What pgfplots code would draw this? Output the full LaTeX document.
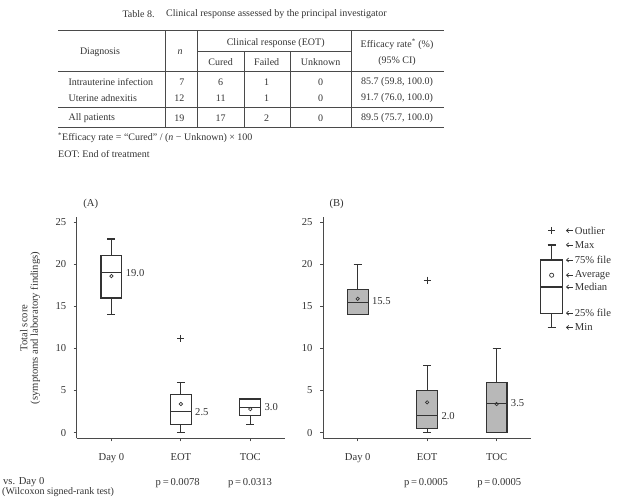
\documentclass[border=0pt]{standalone}
\usepackage{fontspec}
\setmainfont{Liberation Serif}
\usepackage{pgfplots}
\pgfplotsset{compat=1.18}
\usepgfplotslibrary{statistics}
\usetikzlibrary{arrows.meta}

\definecolor{ink}{HTML}{333333}
\definecolor{rule}{HTML}{4A4A4A}
\definecolor{boxfill}{HTML}{B8B8B8}

\newcommand{\plotfont}{\fontsize{10.6}{12.5}\selectfont}

\pgfplotsset{
  scorebox/.style={
    scale only axis, width=208.3pt, height=221.6pt,
    anchor=south west,
    xmin=0.5, xmax=3.5, ymin=-0.67, ymax=25.65,
    axis x line*=bottom, axis y line*=left,
    axis line style={draw=rule, line width=1pt},
    every tick/.style={draw=rule, line width=1pt},
    tick align=outside, major tick length=3pt,
    xtick={1,2,3}, xticklabels={Day 0, EOT, TOC},
    ytick={0,5,10,15,20,25},
    /pgf/number format/assume math mode=true,
    tick label style={font=\plotfont, text=ink},
    x tick label style={yshift=-9pt},
    y tick label style={xshift=-4pt},
    clip=false,
    boxplot/draw direction=y,
  },
  bx/.style={draw=ink, line width=1.2pt, solid, mark=none},
  meanmark/.style={only marks, mark=o, mark size=1.7pt, draw=ink, line width=0.7pt},
  outlier/.style={only marks, mark=+, mark size=3.6pt, draw=ink, line width=0.9pt},
}

% one arrow-and-word entry of the box key
\newcommand{\keyitem}[2]{%
  \draw[ink, line width=0.7pt, {Straight Barb[length=2.2pt,width=4pt]}-]
    (axis cs:0.395,#1) -- (axis cs:0.47,#1);
  \node[anchor=west, inner sep=1pt, font=\plotfont] at (axis cs:0.48,#1) {#2};
}

\begin{document}
\begin{tikzpicture}[font=\fontsize{10}{12}\selectfont, text=ink]
\useasboundingbox (0pt,0pt) rectangle (621pt,-497pt);
\clip (0pt,0pt) rectangle (621pt,-497pt);

% ---------------- Table 8 ----------------
\begin{scope}[x=1pt, y=-1pt]
  \node[anchor=west] at (119,14) {Table 8.};
  \node[anchor=west] at (162.7,14) {Clinical response assessed by the principal investigator};

  \draw[rule, line width=1pt] (58,31) -- (444,31);
  \draw[rule, line width=0.7pt] (197.3,51.7) -- (351,51.7);
  \draw[rule, line width=0.7pt] (58,71) -- (444,71);
  \draw[rule, line width=0.7pt] (58,107.3) -- (444,107.3);
  \draw[rule, line width=1pt] (58,127.3) -- (444,127.3);
  \foreach \xx in {165.3,197.3,351} \draw[rule, line width=0.7pt] (\xx,31) -- (\xx,127.3);
  \foreach \xx in {244,290.7} \draw[rule, line width=0.7pt] (\xx,51.7) -- (\xx,127.3);

  \node at (100,52) {Diagnosis};
  \node at (180,52) {\textit{n}};
  \node at (275.7,42.7) {Clinical response (EOT)};
  \node at (220.7,62.3) {Cured};
  \node at (266.7,62.3) {Failed};
  \node at (320.7,62.3) {Unknown};
  \node at (397,44.3) {Efficacy rate\textsuperscript{*}~(\%)};
  \node at (397,61) {(95\% CI)};

  \node[anchor=west] at (65,82.3) {Intrauterine infection};
  \node[anchor=west] at (65,98.3) {Uterine adnexitis};
  \node[anchor=west] at (65,118.3) {All patients};
  \node[anchor=east] at (188,82.3) {7};
  \node[anchor=east] at (188,98.3) {12};
  \node[anchor=east] at (188,118.3) {19};
  \node at (220.7,82.3) {6};   \node at (266.7,82.3) {1};  \node at (320.7,82.3) {0};
  \node at (220.7,98.3) {11};  \node at (266.7,98.3) {1};  \node at (320.7,98.3) {0};
  \node at (220.7,118.3) {17}; \node at (266.7,118.3) {2}; \node at (320.7,118.3) {0};
  \node at (397,82.3) {85.7 (59.8, 100.0)};
  \node at (397,98.3) {91.7 (76.0, 100.0)};
  \node at (397,118.3) {89.5 (75.7, 100.0)};

  \node[anchor=west, inner sep=0pt] at (58,137.7) {\textsuperscript{*}Efficacy rate = “Cured” / (\textit{n} − Unknown) × 100};
  \node[anchor=west, inner sep=0pt] at (58,154.3) {EOT: End of treatment};

  % panel tags, y-axis title and test notes
  \node[font=\plotfont] at (90.7,204) {(A)};
  \node[font=\plotfont] at (336.7,204) {(B)};
  \node[rotate=90, align=center, font=\fontsize{10.6}{10.5}\selectfont] at (30,328) {Total score\\(symptoms and laboratory findings)};
  \node[anchor=west, inner sep=0pt, font=\plotfont] at (3,482) {vs. Day 0};
  \node[anchor=west, inner sep=0pt] at (2,492.5) {(Wilcoxon signed-rank test)};
  \node[font=\plotfont] at (177.7,483) {p\,=\,0.0078};
  \node[font=\plotfont] at (250,483) {p\,=\,0.0313};
  \node[font=\plotfont] at (426,483) {p\,=\,0.0005};
  \node[font=\plotfont] at (499.3,483) {p\,=\,0.0005};
\end{scope}

% ---------------- Panel A ----------------
\begin{axis}[scorebox, at={(76.7pt,-438.3pt)}]
  \addplot[bx, fill=white, boxplot prepared={draw position=1,
    lower whisker=14, lower quartile=16, median=19,
    upper quartile=21, upper whisker=23,
    box extend=0.3, whisker extend=0.115}] coordinates {};
  \addplot[bx, fill=white, boxplot prepared={draw position=2,
    lower whisker=0, lower quartile=1, median=2.5,
    upper quartile=4.5, upper whisker=6,
    box extend=0.3, whisker extend=0.115}] coordinates {};
  \addplot[bx, fill=white, boxplot prepared={draw position=3,
    lower whisker=1, lower quartile=2, median=3,
    upper quartile=4, upper whisker=4,
    box extend=0.3, whisker extend=0.115}] coordinates {};
  \addplot[meanmark] coordinates {(1,18.6) (2,3.4) (3,2.8)};
  \addplot[outlier] coordinates {(2,11.2)};
  \node[anchor=west, inner sep=1pt, font=\plotfont] at (axis cs:1.19,19) {19.0};
  \node[anchor=west, inner sep=1pt, font=\plotfont] at (axis cs:2.19,2.5) {2.5};
  \node[anchor=west, inner sep=1pt, font=\plotfont] at (axis cs:3.19,3.0) {3.0};
\end{axis}

% ---------------- Panel B ----------------
\begin{axis}[scorebox, at={(323pt,-438.3pt)}]
  \addplot[bx, fill=boxfill, boxplot prepared={draw position=1,
    lower whisker=14, lower quartile=14, median=15.5,
    upper quartile=17, upper whisker=20,
    box extend=0.3, whisker extend=0.115}] coordinates {};
  \addplot[bx, fill=boxfill, boxplot prepared={draw position=2,
    lower whisker=0, lower quartile=0.5, median=2,
    upper quartile=5, upper whisker=8,
    box extend=0.3, whisker extend=0.115}] coordinates {};
  \addplot[bx, fill=boxfill, boxplot prepared={draw position=3,
    lower whisker=0, lower quartile=0, median=3.5,
    upper quartile=6, upper whisker=10,
    box extend=0.3, whisker extend=0.115}] coordinates {};
  \addplot[meanmark] coordinates {(1,15.9) (2,3.6) (3,3.4)};
  \addplot[outlier] coordinates {(2,18.1)};
  \node[anchor=west, inner sep=1pt, font=\plotfont] at (axis cs:1.19,15.6) {15.5};
  \node[anchor=west, inner sep=1pt, font=\plotfont] at (axis cs:2.19,2.0) {2.0};
  \node[anchor=west, inner sep=1pt, font=\plotfont] at (axis cs:3.19,3.5) {3.5};
\end{axis}

% ---------------- Key to the box symbols ----------------
\begin{axis}[scale only axis, width=91pt, height=221.6pt,
  at={(530pt,-438.3pt)}, anchor=south west,
  xmin=0, xmax=1, ymin=-0.67, ymax=25.65,
  hide axis, clip=false, boxplot/draw direction=y]
  \addplot[bx, fill=white, boxplot prepared={draw position=0.238,
    lower whisker=12.5, lower quartile=14.2, median=17.3,
    upper quartile=20.5, upper whisker=22.3,
    box extend=0.237, whisker extend=0.088}] coordinates {};
  \addplot[meanmark, mark size=2.1pt] coordinates {(0.238,18.7)};
  \addplot[outlier] coordinates {(0.238,24.0)};
  \keyitem{24.0}{Outlier}
  \keyitem{22.3}{Max}
  \keyitem{20.5}{75\% file}
  \keyitem{18.7}{Average}
  \keyitem{17.3}{Median}
  \keyitem{14.2}{25\% file}
  \keyitem{12.5}{Min}
\end{axis}
\end{tikzpicture}
\end{document}
